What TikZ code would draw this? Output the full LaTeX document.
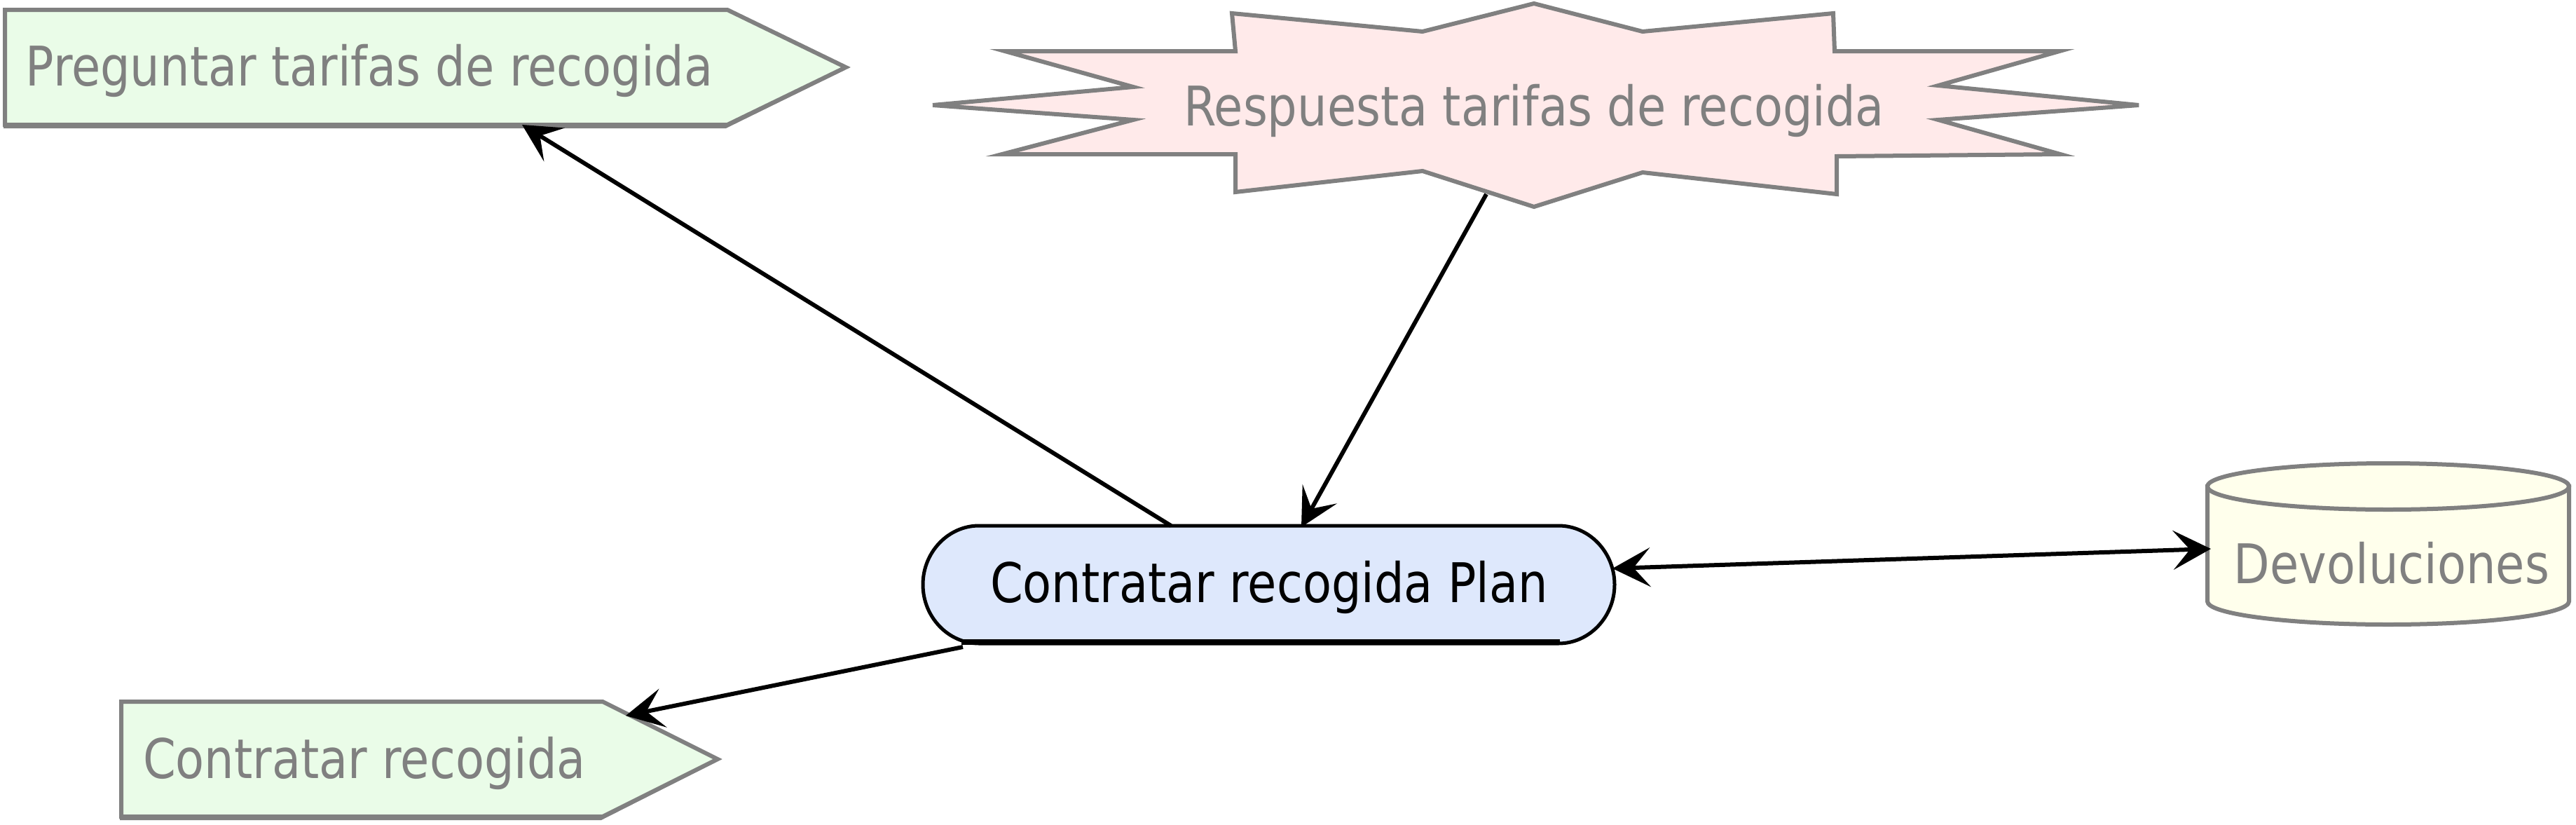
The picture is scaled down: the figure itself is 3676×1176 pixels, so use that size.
\documentclass[tikz,border=0pt]{standalone}
\usepackage{fontspec}
\newfontfamily\dfont[FakeStretch=0.86]{DejaVu Sans}
\usetikzlibrary{arrows.meta}
\definecolor{grayline}{RGB}{128,128,128}
\definecolor{greenfill}{RGB}{234,252,232}
\definecolor{pinkfill}{RGB}{255,234,234}
\definecolor{bluefill}{RGB}{222,232,252}
\definecolor{yellowfill}{RGB}{255,255,236}
\tikzset{
  shapeline/.style={draw=grayline, line width=6pt, line join=miter},
  lbl/.style={font=\dfont\fontsize{78}{80}\selectfont, text=grayline, inner sep=0pt},
  conn/.style={draw=black, line width=6pt},
  tipa/.style={-{Stealth[length=54pt,width=56pt,inset=24pt]}},
}
\begin{document}
\begin{tikzpicture}[x=1pt,y=-1pt]
\useasboundingbox (0,0) rectangle (3676,1176);
% Preguntar tarifas de recogida
\fill[grayline] (5,18) -- (1036,18) -- (1205,100) -- (1036,183) -- (5,183) -- cycle;
\path[shapeline, fill=greenfill] (7,14) -- (1038,14) -- (1207,96) -- (1038,178) -- (7,178) -- cycle;
\node[lbl] (preg) at (527,101) {Preguntar tarifas de recogida};
\coordinate (pregB) at (745,178);
% Respuesta star
\path[shapeline, fill=pinkfill] (2189,5) -- (2344,45) -- (2616,19) -- (2618,73) -- (2939,73) -- (2766,122) -- (3052,150) -- (2766,171) -- (2940,220) -- (2621,223) -- (2621,277) -- (2344,246) -- (2189,295) -- (2030,244) -- (1763,274) -- (1763,220) -- (1430,220) -- (1617,171) -- (1331,150) -- (1617,124) -- (1434,73) -- (1763,73) -- (1758,19) -- (2030,45) -- cycle;
\node[lbl] (resp) at (2189,158) {Respuesta tarifas de recogida};
\coordinate (respB) at (2121,277);
% Plan
\path[draw=black, line width=5pt, fill=bluefill] (1397,750) -- (2224,750)
  .. controls (2268,750) and (2304,788) .. (2304,834)
  .. controls (2304,880) and (2268,918) .. (2224,918)
  -- (1397,918)
  .. controls (1353,918) and (1317,880) .. (1317,834)
  .. controls (1317,788) and (1353,750) .. (1397,750) -- cycle;
\draw[line width=8pt] (1372,916) -- (2226,916);
\node[lbl, text=black] (plan) at (1811,838) {Contratar recogida Plan};
\coordinate (planT1) at (1671,750);
\coordinate (planT2) at (1857,752);
\coordinate (planBL) at (1374,923);
\coordinate (planR) at (2301,811);
% Devoluciones cylinder
\path[shapeline, fill=yellowfill] (3150,694) -- (3150,858)
  .. controls (3150,876) and (3265,891) .. (3408,891)
  .. controls (3551,891) and (3666,876) .. (3666,858)
  -- (3666,694) -- cycle;
\path[shapeline, fill=yellowfill] (3408,694) ellipse [x radius=258pt, y radius=33pt];
\node[lbl] (dev) at (3413,803) {Devoluciones};
\coordinate (devL) at (3155,783);
% Contratar recogida
\fill[grayline] (171,1005) -- (858,1005) -- (1022,1087) -- (858,1170) -- (171,1170) -- cycle;
\path[shapeline, fill=greenfill] (173,1001) -- (860,1001) -- (1024,1083) -- (860,1165) -- (173,1165) -- cycle;
\node[lbl] (contr) at (520,1089) {Contratar recogida};
\coordinate (contrT) at (893,1021);
% connectors
\draw[conn, tipa] (planT1) -- (pregB);
\draw[conn, tipa] (respB) -- (planT2);
\draw[conn, tipa] (planBL) -- (contrT);
\draw[conn, {Stealth[length=54pt,width=56pt,inset=24pt]}-{Stealth[length=54pt,width=56pt,inset=24pt]}] (planR) -- (devL);
\end{tikzpicture}
\end{document}
